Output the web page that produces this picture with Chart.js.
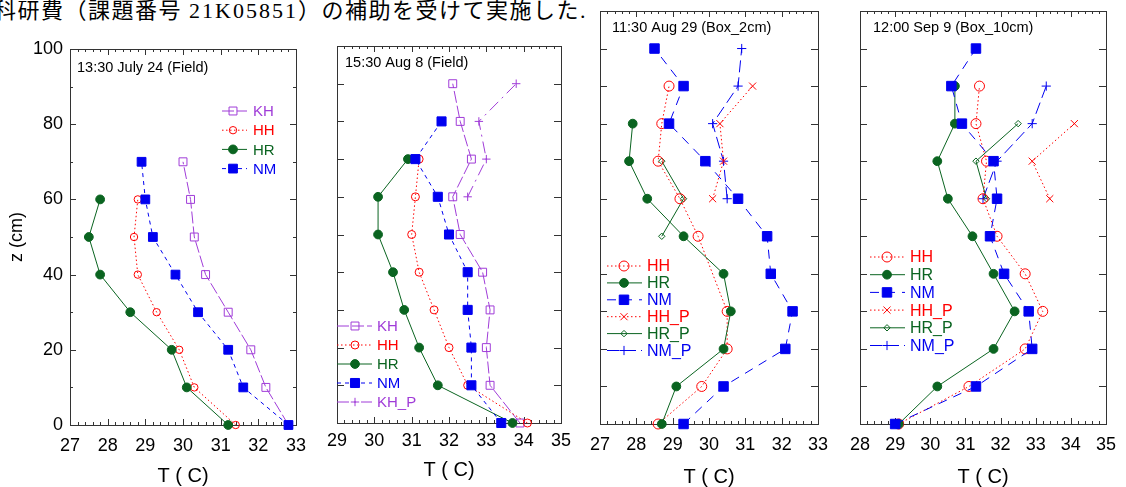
<!DOCTYPE html>
<html>
<head>
<meta charset="utf-8">
<script src="https://cdn.jsdelivr.net/npm/chart.js@4.4.1/dist/chart.umd.min.js"></script>
<style>
  html, body { margin: 0; padding: 0; background: #fff; }
  body { width: 1126px; height: 487px; position: relative; overflow: hidden; }
  canvas.panel { position: absolute; top: 0; }
  #note {
    position: absolute; right: 539px; top: -2px; white-space: nowrap;
    font-family: 'Liberation Serif', 'Noto Sans CJK JP', serif;
    font-size: 22px; line-height: 26px; letter-spacing: 1.5px; color: #000;
  }
  #note .code { letter-spacing: 2px; }
</style>
</head>
<body>
<div id="note">科研費（課題番号 <span class="code">21K05851</span>）の補助を受けて実施した.</div>
<canvas id="p1" class="panel" width="320" height="487" style="left:0px"></canvas>
<canvas id="p2" class="panel" width="260" height="487" style="left:320px"></canvas>
<canvas id="p3" class="panel" width="260" height="487" style="left:580px"></canvas>
<canvas id="p4" class="panel" width="286" height="487" style="left:840px"></canvas>
<script>
// ---- Temperature profiles: depth z (cm) and temperature T (°C) ----

// 13:30 July 24 (Field)
const jul24KHDepth = [0, 10, 20, 30, 40, 50, 60, 70];
const jul24KH      = [32.8, 32.2, 31.8, 31.2, 30.6, 30.3, 30.2, 30.0];
const jul24HHDepth = [0, 10, 20, 30, 40, 50, 60];
const jul24HH      = [31.4, 30.3, 29.9, 29.3, 28.8, 28.7, 28.8];
const jul24HRDepth = [0, 10, 20, 30, 40, 50, 60];
const jul24HR      = [31.2, 30.1, 29.7, 28.6, 27.8, 27.5, 27.8];
const jul24NMDepth = [0, 10, 20, 30, 40, 50, 60, 70];
const jul24NM      = [32.8, 31.6, 31.2, 30.4, 29.8, 29.2, 29.0, 28.9];

// 15:30 Aug 8 (Field)
const aug8KHDepth  = [0, 10, 20, 30, 40, 50, 60, 70, 80, 90];
const aug8KH       = [33.9, 33.1, 33.0, 33.1, 32.9, 32.3, 32.1, 32.6, 32.3, 32.1];
const aug8HHDepth  = [0, 10, 20, 30, 40, 50, 60, 70];
const aug8HH       = [34.1, 32.5, 32.0, 31.6, 31.2, 31.0, 31.1, 31.2];
const aug8HRDepth  = [0, 10, 20, 30, 40, 50, 60, 70];
const aug8HR       = [33.7, 31.7, 31.2, 30.8, 30.5, 30.1, 30.1, 30.9];
const aug8NMDepth  = [0, 10, 20, 30, 40, 50, 60, 70, 80];
const aug8NM       = [33.4, 32.6, 32.6, 32.5, 32.5, 32.0, 31.7, 31.1, 31.8];
const aug8KHPDepth = [60, 70, 80, 90];
const aug8KHP      = [32.5, 33.0, 32.8, 33.8];

// 11:30 Aug 29 (Box_2cm)
const aug29HHDepth  = [0, 10, 20, 30, 50, 60, 70, 80, 90];
const aug29HH       = [28.6, 29.8, 30.5, 30.5, 29.7, 29.2, 28.6, 28.7, 28.9];
const aug29HRDepth  = [0, 10, 20, 30, 40, 50, 60, 70, 80];
const aug29HR       = [28.7, 29.1, 30.4, 30.6, 30.4, 29.3, 28.3, 27.8, 27.9];
const aug29NMDepth  = [0, 10, 20, 30, 40, 50, 60, 70, 80, 90, 100];
const aug29NM       = [29.3, 30.4, 32.1, 32.3, 31.7, 31.6, 30.8, 29.9, 28.9, 29.3, 28.5];
const aug29HHPDepth = [60, 70, 80, 90];
const aug29HHP      = [30.1, 30.4, 30.3, 31.2];
const aug29HRPDepth = [50, 60, 70];
const aug29HRP      = [28.7, 29.3, 28.7];
const aug29NMPDepth = [60, 70, 80, 90, 100];
const aug29NMP      = [30.5, 30.4, 30.1, 30.8, 30.9];

// 12:00 Sep 9 (Box_10cm)
const sep9HHDepth  = [0, 10, 20, 30, 40, 50, 60, 70, 80, 90];
const sep9HH       = [29.1, 31.1, 32.7, 33.2, 32.7, 31.9, 31.5, 31.6, 31.3, 31.4];
const sep9HRDepth  = [0, 10, 20, 30, 40, 50, 60, 70, 80, 90];
const sep9HR       = [29.1, 30.2, 31.8, 32.4, 31.8, 31.2, 30.5, 30.2, 30.7, 30.7];
const sep9NMDepth  = [0, 10, 20, 30, 40, 50, 60, 70, 80, 90, 100];
const sep9NM       = [29.0, 31.3, 32.9, 32.8, 32.1, 31.7, 31.9, 31.8, 30.9, 30.6, 31.3];
const sep9HHPDepth = [60, 70, 80];
const sep9HHP      = [33.4, 32.9, 34.1];
const sep9HRPDepth = [60, 70, 80];
const sep9HRP      = [31.6, 31.3, 32.5];
const sep9NMPDepth = [60, 70, 80, 90];
const sep9NMP      = [31.5, 31.9, 32.9, 33.3];

// Axis tick ranges
const jul24TRange = [27, 33];
const aug8TRange  = [29, 35];
const aug29TRange = [27, 33];
const sep9TRange  = [28, 35];
const zLabels     = [0, 20, 40, 60, 80, 100];

// ---- Look of each series ----
const PURPLE = '#A03CD8', RED = '#FF0000', GREEN = '#0A6420', BLUE = '#0000F0';
const LOOK = {
  KH:   { color: PURPLE, style: 'rect',     r: 5.6, open: true,  dash: [12, 3],       order: 3 },
  HH:   { color: RED,    style: 'circle',   r: 4.0, open: true,  dash: [1.5, 2.5],    order: 2 },
  HR:   { color: GREEN,  style: 'circle',   r: 4.4, open: false, dash: [],            order: 1 },
  NM:   { color: BLUE,   style: 'rect',     r: 6.7, open: false, dash: [4, 4],        order: 0 },
  KH_P: { color: PURPLE, style: 'cross',    r: 4.2, open: true,  dash: [12, 5, 2, 5], order: 4 },
  HH_P: { color: RED,    style: 'crossRot', r: 5.0, open: true,  dash: [1.5, 2.5],    order: 5 },
  HR_P: { color: GREEN,  style: 'rectRot',  r: 3.2, open: true,  dash: [],            order: 6 },
  NM_P: { color: BLUE,   style: 'cross',    r: 4.6, open: true,  dash: [12, 5],       order: 7 }
};

const FONT = "'Liberation Sans', Arial, sans-serif";

function series(name, depth, temp, over) {
  const lk = Object.assign({}, LOOK[name], over || {});
  return {
    label: name,
    data: depth.map((z, i) => ({ x: temp[i], y: z })),
    showLine: true,
    borderColor: lk.color,
    borderWidth: 1,
    borderDash: lk.dash,
    pointStyle: lk.style,
    pointRadius: lk.r,
    pointHoverRadius: lk.r,
    pointBorderColor: lk.color,
    pointBorderWidth: 1,
    pointBackgroundColor: lk.open ? 'rgba(255,255,255,0)' : lk.color,
    order: lk.order,
    clip: false,
    tension: 0
  };
}

// Frame with inward ticks on all four sides
const frameTicks = {
  id: 'frameTicks',
  beforeDatasetsDraw(chart, args, o) {
    const { ctx, chartArea: a } = chart;
    const x = chart.scales.x, y = chart.scales.y;
    ctx.save();
    ctx.strokeStyle = '#333';
    ctx.lineWidth = 1;
    ctx.beginPath();
    const seg = (x1, y1, x2, y2) => { ctx.moveTo(x1, y1); ctx.lineTo(x2, y2); };
    const n0 = Math.round(x.min * 5), n1 = Math.round(x.max * 5);
    for (let n = n0; n <= n1; n++) {
      const px = Math.round(x.getPixelForValue(n / 5)) + 0.5;
      const len = n % 5 === 0 ? o.xMajor : o.xMinor;
      seg(px, a.bottom, px, a.bottom - len);
      seg(px, a.top, px, a.top + len);
    }
    for (let v = y.min; v <= y.max; v += 10) {
      const py = Math.round(y.getPixelForValue(v)) + 0.5;
      const len = v % o.yMajorEvery === 0 ? o.yMajor : o.yMinor;
      seg(a.left, py, a.left + len, py);
      seg(a.right, py, a.right - len, py);
    }
    ctx.stroke();
    ctx.strokeRect(Math.round(a.left) + 0.5, Math.round(a.top) + 0.5,
                   Math.round(a.right) - Math.round(a.left), Math.round(a.bottom) - Math.round(a.top));
    ctx.restore();
  }
};

// Series key with line sample, marker and coloured name
const seriesKey = {
  id: 'seriesKey',
  afterDatasetsDraw(chart, args, o) {
    if (!o || !o.entries) return;
    const ctx = chart.ctx;
    ctx.save();
    o.entries.forEach((name, i) => {
      const ds = chart.data.datasets.find(d => d.label === name);
      const yy = o.y + i * o.dy;
      ctx.strokeStyle = ds.borderColor;
      ctx.lineWidth = 1;
      ctx.setLineDash(ds.borderDash);
      ctx.beginPath();
      ctx.moveTo(o.x0, yy); ctx.lineTo(o.x1, yy);
      ctx.stroke();
      ctx.setLineDash([]);
      ctx.fillStyle = ds.pointBackgroundColor;
      ctx.strokeStyle = ds.pointBorderColor;
      Chart.helpers.drawPoint(ctx, { pointStyle: ds.pointStyle, radius: ds.pointRadius, rotation: 0, borderWidth: 1 }, o.xm, yy);
      ctx.fillStyle = ds.borderColor;
      ctx.font = o.size + 'px ' + FONT;
      ctx.textBaseline = 'middle';
      ctx.textAlign = 'left';
      ctx.fillText(name, o.xt, yy + 1);
    });
    ctx.restore();
  }
};

// Panel heading written inside the plot area
const heading = {
  id: 'heading',
  afterDatasetsDraw(chart, args, o) {
    if (!o || !o.text) return;
    const ctx = chart.ctx, a = chart.chartArea;
    ctx.save();
    ctx.fillStyle = '#000';
    ctx.font = o.size + 'px ' + FONT;
    ctx.textBaseline = 'middle';
    ctx.textAlign = 'left';
    ctx.fillText(o.text, a.left + o.dx, a.top + o.dy);
    ctx.restore();
  }
};

function makePanel(id, p) {
  new Chart(document.getElementById(id), {
    type: 'scatter',
    data: { datasets: p.datasets },
    plugins: [frameTicks, seriesKey, heading],
    options: {
      responsive: false,
      animation: false,
      devicePixelRatio: 1,
      events: [],
      layout: { padding: { top: p.top, right: p.right, left: 0, bottom: 0 } },
      plugins: {
        legend: { display: false },
        tooltip: { enabled: false },
        frameTicks: p.ticks,
        seriesKey: p.key,
        heading: p.heading
      },
      scales: {
        x: {
          type: 'linear',
          min: p.tRange[0], max: p.tRange[1],
          grid: { display: false, drawTicks: false },
          border: { display: false },
          ticks: { stepSize: 1, color: '#000', padding: p.xPad, font: { family: FONT, size: 18 } },
          title: { display: true, text: 'T ( C)', color: '#000', font: { family: FONT, size: 20, lineHeight: 1 }, padding: { top: 0, bottom: p.titlePad } },
          afterFit: s => { s.height = p.xHeight; }
        },
        y: {
          type: 'linear',
          min: 0, max: p.zMax,
          afterBuildTicks: s => { s.ticks = p.zTicks ? p.zTicks.map(v => ({ value: v })) : []; },
          grid: { display: false, drawTicks: false },
          border: { display: false },
          ticks: { display: !!p.zTicks, color: '#000', padding: 7, font: { family: FONT, size: 18 } },
          title: { display: !!p.zTitle, text: 'z (cm)', color: '#000', font: { family: FONT, size: 18, lineHeight: 1.2 }, padding: { top: 6, bottom: 0 } },
          afterFit: s => { s.width = p.yWidth; }
        }
      }
    }
  });
}

makePanel('p1', {
  tRange: jul24TRange, zMax: 100, zTicks: zLabels, zTitle: true,
  top: 49, right: 24, yWidth: 70, xHeight: 62, xPad: 10, titlePad: 1,
  ticks: { xMajor: 6, xMinor: 3, yMajor: 6, yMinor: 3, yMajorEvery: 20 },
  heading: { text: '13:30 July 24 (Field)', size: 14.5, dx: 7, dy: 19 },
  key: { entries: ['KH', 'HH', 'HR', 'NM'], x0: 222, x1: 247, xm: 233, xt: 253, y: 111, dy: 19.2, size: 15 },
  datasets: [
    series('KH', jul24KHDepth, jul24KH),
    series('HH', jul24HHDepth, jul24HH, { r: 3.7 }),
    series('HR', jul24HRDepth, jul24HR),
    series('NM', jul24NMDepth, jul24NM, { r: 6.2 })
  ]
});

makePanel('p2', {
  tRange: aug8TRange, zMax: 100, zTicks: null, zTitle: false,
  top: 46, right: 19, yWidth: 15, xHeight: 64, xPad: 7, titlePad: 7,
  ticks: { xMajor: 6, xMinor: 3, yMajor: 7, yMinor: 7, yMajorEvery: 10 },
  heading: { text: '15:30 Aug 8 (Field)', size: 14.5, dx: 8, dy: 17 },
  key: { entries: ['KH', 'HH', 'HR', 'NM', 'KH_P'], x0: 17, x1: 52, xm: 35, xt: 57, y: 326, dy: 19, size: 15 },
  datasets: [
    series('KH', aug8KHDepth, aug8KH),
    series('HH', aug8HHDepth, aug8HH),
    series('HR', aug8HRDepth, aug8HR),
    series('NM', aug8NMDepth, aug8NM, { r: 6.4 }),
    series('KH_P', aug8KHPDepth, aug8KHP)
  ]
});

makePanel('p3', {
  tRange: aug29TRange, zMax: 110, zTicks: null, zTitle: false,
  top: 11, right: 22, yWidth: 12, xHeight: 63, xPad: 10, titlePad: 0,
  ticks: { xMajor: 6, xMinor: 3, yMajor: 7, yMinor: 7, yMajorEvery: 10 },
  heading: { text: '11:30 Aug 29 (Box_2cm)', size: 14.5, dx: 12, dy: 17 },
  key: { entries: ['HH', 'HR', 'NM', 'HH_P', 'HR_P', 'NM_P'], x0: 27, x1: 62, xm: 44, xt: 67, y: 266, dy: 16.9, size: 16 },
  datasets: [
    series('HH', aug29HHDepth, aug29HH, { r: 5 }),
    series('HR', aug29HRDepth, aug29HR),
    series('NM', aug29NMDepth, aug29NM, { dash: [9, 7] }),
    series('HH_P', aug29HHPDepth, aug29HHP),
    series('HR_P', aug29HRPDepth, aug29HRP),
    series('NM_P', aug29NMPDepth, aug29NMP)
  ]
});

makePanel('p4', {
  tRange: sep9TRange, zMax: 110, zTicks: null, zTitle: false,
  top: 11, right: 13, yWidth: 10, xHeight: 63, xPad: 10, titlePad: 0,
  ticks: { xMajor: 6, xMinor: 3, yMajor: 7, yMinor: 7, yMajorEvery: 10 },
  heading: { text: '12:00 Sep 9 (Box_10cm)', size: 14.5, dx: 13, dy: 17 },
  key: { entries: ['HH', 'HR', 'NM', 'HH_P', 'HR_P', 'NM_P'], x0: 30, x1: 65, xm: 47, xt: 70, y: 257, dy: 17.7, size: 16 },
  datasets: [
    series('HH', sep9HHDepth, sep9HH, { r: 5 }),
    series('HR', sep9HRDepth, sep9HR),
    series('NM', sep9NMDepth, sep9NM, { dash: [9, 7] }),
    series('HH_P', sep9HHPDepth, sep9HHP),
    series('HR_P', sep9HRPDepth, sep9HRP),
    series('NM_P', sep9NMPDepth, sep9NMP)
  ]
});
</script>
</body>
</html>
